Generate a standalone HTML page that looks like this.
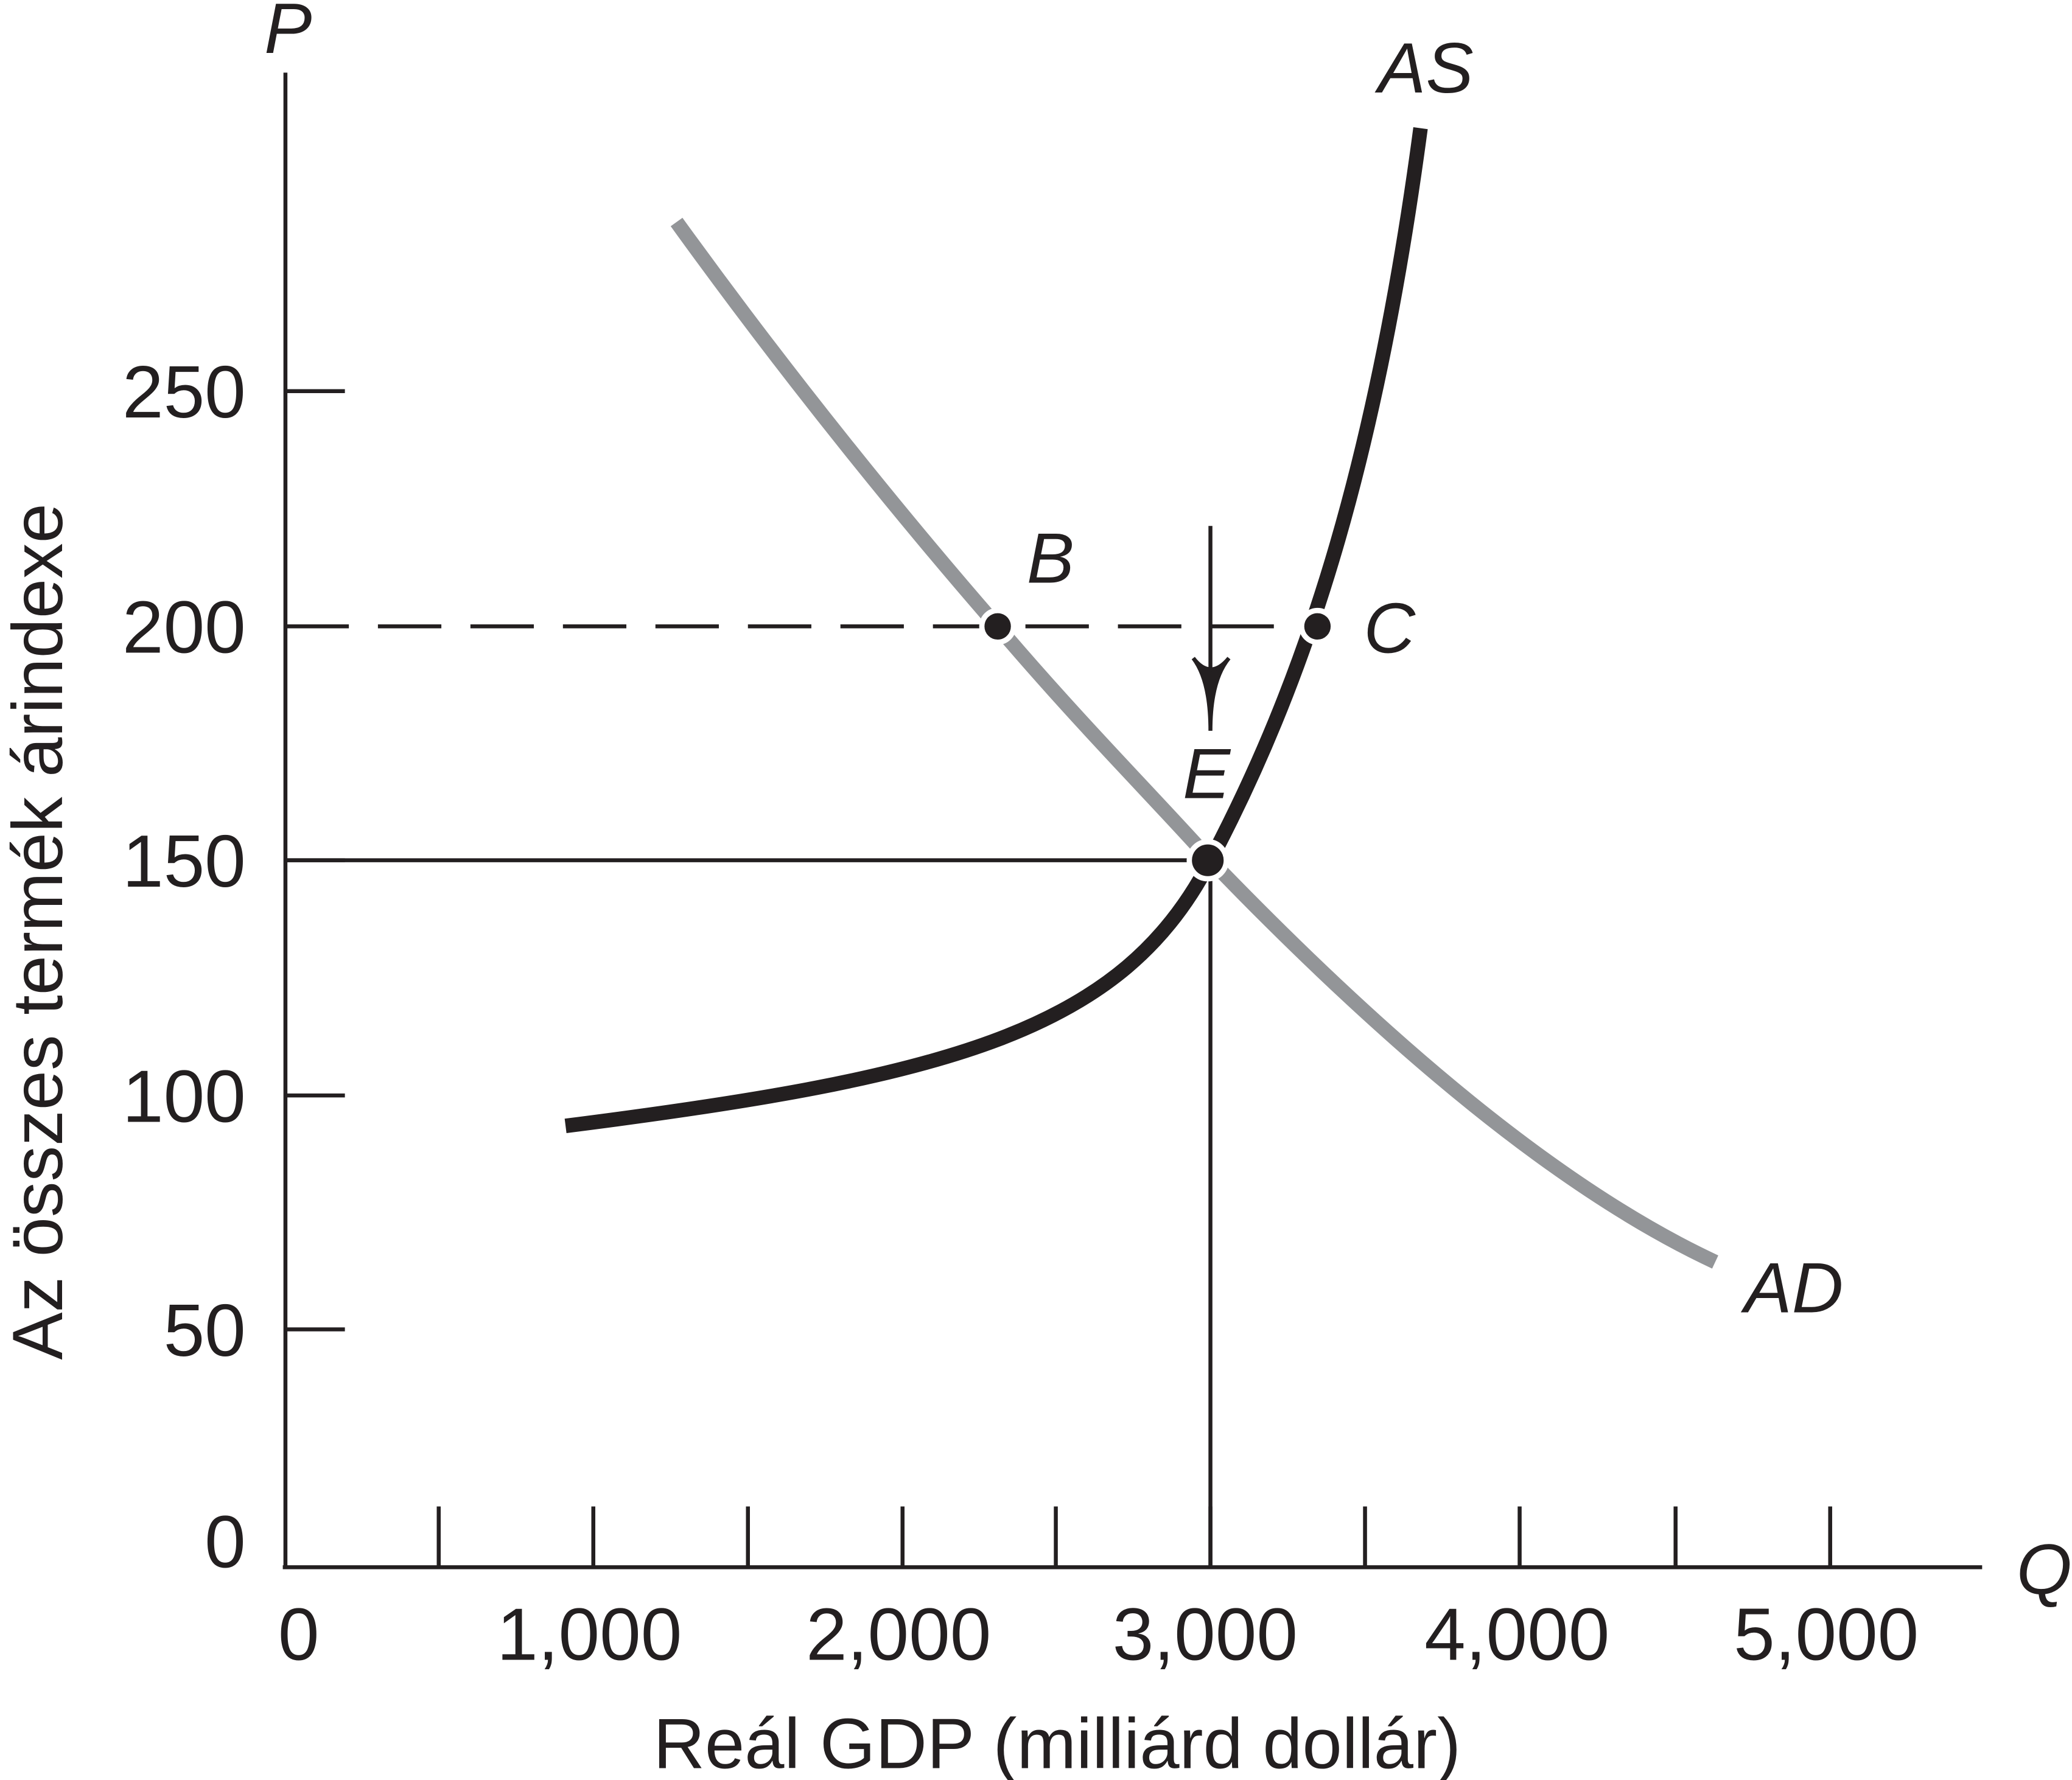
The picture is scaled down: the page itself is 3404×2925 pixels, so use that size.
<!DOCTYPE html>
<html><head><meta charset="utf-8"><style>
html,body{margin:0;padding:0;background:#fff;}
svg{display:block;}
text{font-family:"Liberation Sans",sans-serif;fill:#231f20;}
.it{font-style:italic;}
</style></head><body>
<svg width="3404" height="2925" viewBox="0 0 1568 1347" preserveAspectRatio="none" xmlns="http://www.w3.org/2000/svg">
<rect width="1568" height="1347" fill="#fff"/>
<g stroke="#231f20" stroke-width="3" fill="none">
<line x1="216" y1="55" x2="216" y2="1187"/>
<line x1="214" y1="1186" x2="1500" y2="1186"/>
<line x1="216" y1="296" x2="261" y2="296"/>
<line x1="216" y1="474" x2="261" y2="474"/>
<line x1="216" y1="651" x2="261" y2="651"/>
<line x1="216" y1="829" x2="261" y2="829"/>
<line x1="216" y1="1006" x2="261" y2="1006"/>
<line x1="332" y1="1140" x2="332" y2="1186"/>
<line x1="449" y1="1140" x2="449" y2="1186"/>
<line x1="566" y1="1140" x2="566" y2="1186"/>
<line x1="683" y1="1140" x2="683" y2="1186"/>
<line x1="799" y1="1140" x2="799" y2="1186"/>
<line x1="916" y1="1140" x2="916" y2="1186"/>
<line x1="1033" y1="1140" x2="1033" y2="1186"/>
<line x1="1150" y1="1140" x2="1150" y2="1186"/>
<line x1="1268" y1="1140" x2="1268" y2="1186"/>
<line x1="1385" y1="1140" x2="1385" y2="1186"/>
<line x1="216" y1="474" x2="997" y2="474" stroke-dasharray="48,22"/>
<line x1="216" y1="651" x2="916" y2="651"/>
<line x1="916" y1="651" x2="916" y2="1186"/>
<line x1="916" y1="398" x2="916" y2="530"/>
</g>
<path d="M903,498 Q916,515 916,553 Q916,515 930,498 Q916,515 903,498Z" fill="#231f20" stroke="#231f20" stroke-width="3"/>
<path d="M512,168 C600,290 690,400 760,480 C820,550 870,600 916,651 C1050,790 1180,900 1298,955" stroke="#939598" stroke-width="11" fill="none"/>
<path d="M428,852 C720,815 850,780 916,651 C985,520 1040,360 1075,97" stroke="#231f20" stroke-width="11" fill="none"/>
<g fill="#231f20" stroke="#fff" stroke-width="4">
<circle cx="755" cy="474" r="12"/>
<circle cx="997" cy="474" r="12"/>
<circle cx="914" cy="651" r="14"/>
</g>
<g font-size="56" text-anchor="end">
<text x="186" y="316">250</text>
<text x="186" y="494">200</text>
<text x="186" y="671">150</text>
<text x="186" y="849">100</text>
<text x="186" y="1026">50</text>
<text x="186" y="1186">0</text>
</g>
<g font-size="56" text-anchor="middle">
<text x="226" y="1256">0</text>
<text x="446" y="1256">1,000</text>
<text x="680" y="1256">2,000</text>
<text x="912" y="1256">3,000</text>
<text x="1148" y="1256">4,000</text>
<text x="1382" y="1256">5,000</text>
</g>
<text x="800" y="1338" font-size="54" text-anchor="middle">Reál GDP (milliárd dollár)</text>
<text font-size="54" text-anchor="middle" transform="translate(47,705) rotate(-90)">Az összes termék árindexe</text>
<g font-size="54" class="it">
<text x="200" y="40">P</text>
<text x="1043" y="70">AS</text>
<text x="777" y="441">B</text>
<text x="1032" y="494">C</text>
<text x="895" y="604">E</text>
<text x="1320" y="993">AD</text>
<text x="1526" y="1206">Q</text>
</g>
</svg>
</body></html>
